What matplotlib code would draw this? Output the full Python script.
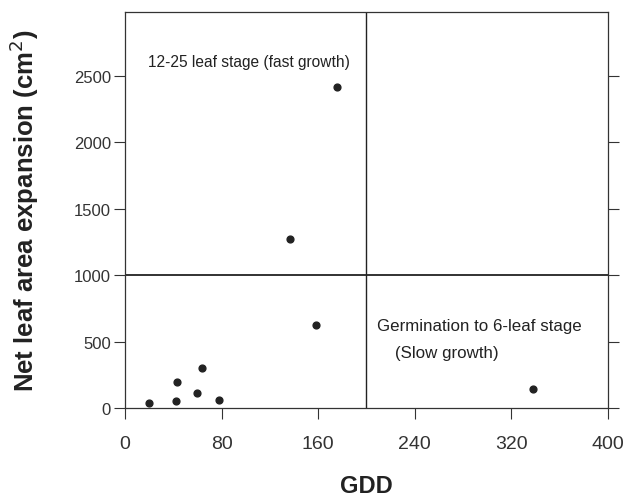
import matplotlib
matplotlib.use('Agg')
import matplotlib.pyplot as plt

# GDD vs net leaf area expansion
gdd = [20, 42, 43, 60, 64, 78, 137, 158, 176, 338]
leaf_area = [40, 55, 193, 113, 300, 63, 1273, 625, 2415, 143]

x_ticks = [0, 80, 160, 240, 320, 400]
y_ticks = [0, 500, 1000, 1500, 2000, 2500]

GDD_SPLIT = 200
AREA_SPLIT = 1000

plt.rcParams['font.family'] = ['Liberation Sans', 'DejaVu Sans']

fig = plt.figure(figsize=(6.34, 5.02), dpi=100)
ax = fig.add_axes([0.197, 0.185, 0.762, 0.789])

ax.scatter(gdd, leaf_area, s=24, color='#222222', zorder=3)

ax.axvline(GDD_SPLIT, color='#222222', linewidth=1.0)
ax.axhline(AREA_SPLIT, color='#222222', linewidth=1.3)

ax.text(19, 2605, '12-25 leaf stage (fast growth)', fontsize=11.2,
        color='#222222', va='center')
ax.text(209, 625, 'Germination to 6-leaf stage', fontsize=12.2,
        color='#222222', va='center')
ax.text(224, 420, '(Slow growth)', fontsize=12.2,
        color='#222222', va='center')

ax.set_xlim(0, 400)
ax.set_ylim(0, 2980)
ax.set_xticks(x_ticks)
ax.set_yticks(y_ticks)
ax.tick_params(axis='x', labelsize=14, colors='#333333', direction='out',
               length=8, pad=11)
ax.tick_params(axis='y', labelsize=12, colors='#333333', direction='out',
               length=8, right=True, pad=2)

for sp in ax.spines.values():
    sp.set_color('#333333')
    sp.set_linewidth(0.9)

ax.set_xlabel('GDD', fontsize=17, fontweight='bold', color='#222222',
              labelpad=16)
ax.set_ylabel('Net leaf area expansion (cm$^2$)', fontsize=18.5,
              fontweight='bold', color='#222222', labelpad=24)

fig.savefig('out.png', dpi=100)
